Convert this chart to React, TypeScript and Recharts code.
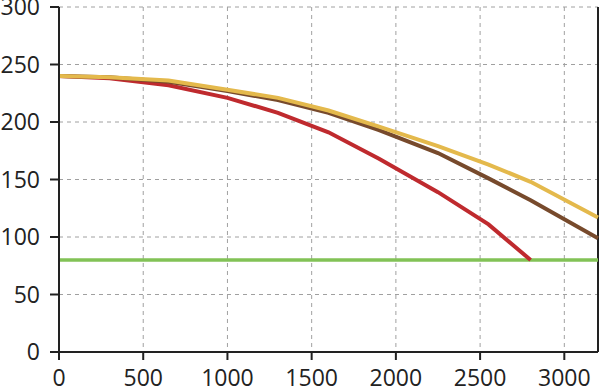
import { CartesianGrid, Line, LineChart, ReferenceLine, XAxis, YAxis } from "recharts";

// Distance (x) and the four series.
const DIST = [0, 300, 650, 1000, 1300, 1600, 1900, 2250, 2550, 2800, 3200];
const YELLOW = [240, 239, 236, 228, 221, 210, 196, 179, 163, 148, 117];
const BROWN = [240, 239, 235, 227, 219, 208, 193, 173, 151, 132, 99];
const RED = [240, 238, 232, 221, 208, 191, 168, 139, 111, 80, null];
const GREEN = [80, 80, 80, 80, 80, 80, 80, 80, 80, 80, 80];

const X_TICKS = [0, 500, 1000, 1500, 2000, 2500, 3000];
const Y_TICKS = [0, 50, 100, 150, 200, 250, 300];

const COLORS = {
  yellow: "#e4b94c",
  brown: "#774a2c",
  red: "#bf2a2e",
  green: "#82c256",
};

const INK = "#222";
const GRID = "#a0a0a0";

const rows = DIST.map((x, i) => ({
  x,
  yellow: YELLOW[i],
  brown: BROWN[i],
  red: RED[i],
  green: GREEN[i],
}));

const tick = { fill: INK, fontSize: 23, fontFamily: "'Open Sans', sans-serif" };

export default function App() {
  return (
    <div style={{ position: "absolute", left: 0, top: 0, background: "#fff" }}>
      <LineChart width={600} height={391} data={rows} margin={{ top: 7, right: 2, bottom: 0, left: 0 }}>
        <CartesianGrid stroke={GRID} strokeDasharray="4 4" />
        <XAxis
          type="number"
          dataKey="x"
          domain={[0, 3200]}
          ticks={X_TICKS}
          height={39}
          tick={tick}
          tickSize={8}
          tickMargin={10}
          tickLine={{ stroke: INK, strokeWidth: 2 }}
          axisLine={{ stroke: INK, strokeWidth: 2 }}
          interval={0}
        />
        <YAxis
          domain={[0, 300]}
          ticks={Y_TICKS}
          width={59}
          tick={tick}
          tickSize={9}
          tickMargin={10}
          tickLine={{ stroke: INK, strokeWidth: 2 }}
          axisLine={{ stroke: INK, strokeWidth: 2 }}
          interval={0}
        />
        <ReferenceLine x={3200} stroke={INK} strokeWidth={2} />
        <Line dataKey="green" stroke={COLORS.green} strokeWidth={3.5} dot={false} isAnimationActive={false} type="linear" />
        <Line dataKey="red" stroke={COLORS.red} strokeWidth={4} dot={false} isAnimationActive={false} type="linear" />
        <Line dataKey="brown" stroke={COLORS.brown} strokeWidth={4} dot={false} isAnimationActive={false} type="linear" />
        <Line dataKey="yellow" stroke={COLORS.yellow} strokeWidth={4} dot={false} isAnimationActive={false} type="linear" />
      </LineChart>
    </div>
  );
}
